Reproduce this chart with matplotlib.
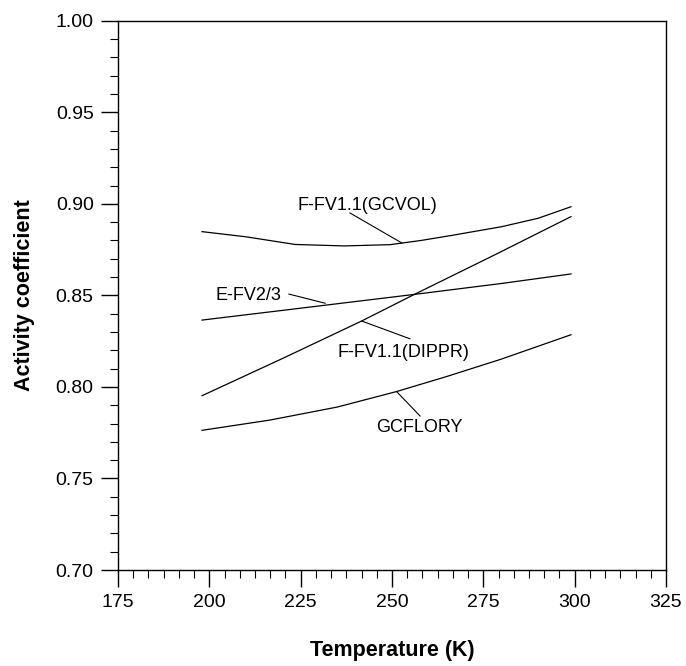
import matplotlib
matplotlib.use("Agg")
import matplotlib.pyplot as plt
from matplotlib.ticker import MultipleLocator, FormatStrFormatter

plt.rcParams['font.family'] = ['Liberation Sans', 'DejaVu Sans']

# ---- data ----
t_gcvol = [198, 210, 223.5, 237, 249.5, 258, 266.5, 280, 290, 299]
g_gcvol = [0.8848, 0.8820, 0.8778, 0.8770, 0.8777, 0.8800, 0.8828, 0.8875, 0.8921, 0.8984]

t_efv = [198, 225, 256, 280, 299]
g_efv = [0.8365, 0.8430, 0.8505, 0.8565, 0.8617]

t_dippr = [198, 220, 241.7, 255.8, 278, 299]
g_dippr = [0.7952, 0.8155, 0.8360, 0.8502, 0.8720, 0.8930]

t_gcflory = [198, 216.6, 235, 251.3, 265, 279.8, 299]
g_gcflory = [0.7763, 0.7819, 0.7890, 0.7975, 0.8057, 0.8151, 0.8285]

series = [(t_gcvol, g_gcvol), (t_efv, g_efv), (t_dippr, g_dippr), (t_gcflory, g_gcflory)]

labels = ["F-FV1.1(GCVOL)", "E-FV2/3", "F-FV1.1(DIPPR)", "GCFLORY"]
# label text position and leader line (text end -> curve point)
label_pos = [(243.4, 0.8993), (210.7, 0.8502), (253.1, 0.8187), (257.4, 0.7776)]
leaders = [((238.5, 0.8950), (252.7, 0.8786)),
           ((221.8, 0.8507), (231.7, 0.8457)),
           ((254.9, 0.8263), (241.7, 0.8360)),
           ((257.7, 0.7841), (251.3, 0.7974))]

fig = plt.figure(figsize=(6.86, 6.66), dpi=100)
ax = fig.add_axes([0.172, 0.1441, 0.7988, 0.8248])

for t, g in series:
    ax.plot(t, g, color='black', lw=0.9)

for lab, (tx, ty), ((x0, y0), (x1, y1)) in zip(labels, label_pos, leaders):
    ax.text(tx, ty, lab, ha='center', va='center', fontsize=13)
    ax.plot([x0, x1], [y0, y1], color='black', lw=0.8)

ax.set_xlim(175, 325)
ax.set_ylim(0.70, 1.00)
ax.xaxis.set_major_locator(MultipleLocator(25))
ax.xaxis.set_minor_locator(MultipleLocator(25 / 6))
ax.yaxis.set_major_locator(MultipleLocator(0.05))
ax.yaxis.set_minor_locator(MultipleLocator(0.01))
ax.yaxis.set_major_formatter(FormatStrFormatter('%.2f'))

ax.tick_params(which='major', direction='out', length=12.5, width=1.0, labelsize=14, pad=5)
ax.tick_params(which='minor', direction='out', length=6, width=0.8)
ax.tick_params(top=False, right=False, which='both')
for s in ax.spines.values():
    s.set_linewidth(1.0)

ax.set_xlabel("Temperature (K)", fontsize=15.5, fontweight='bold')
ax.set_ylabel("Activity coefficient", fontsize=15.5, fontweight='bold')
ax.xaxis.set_label_coords(0.5, -0.127)
ax.yaxis.set_label_coords(-0.152, 0.5)

fig.savefig("out.png", dpi=100)
